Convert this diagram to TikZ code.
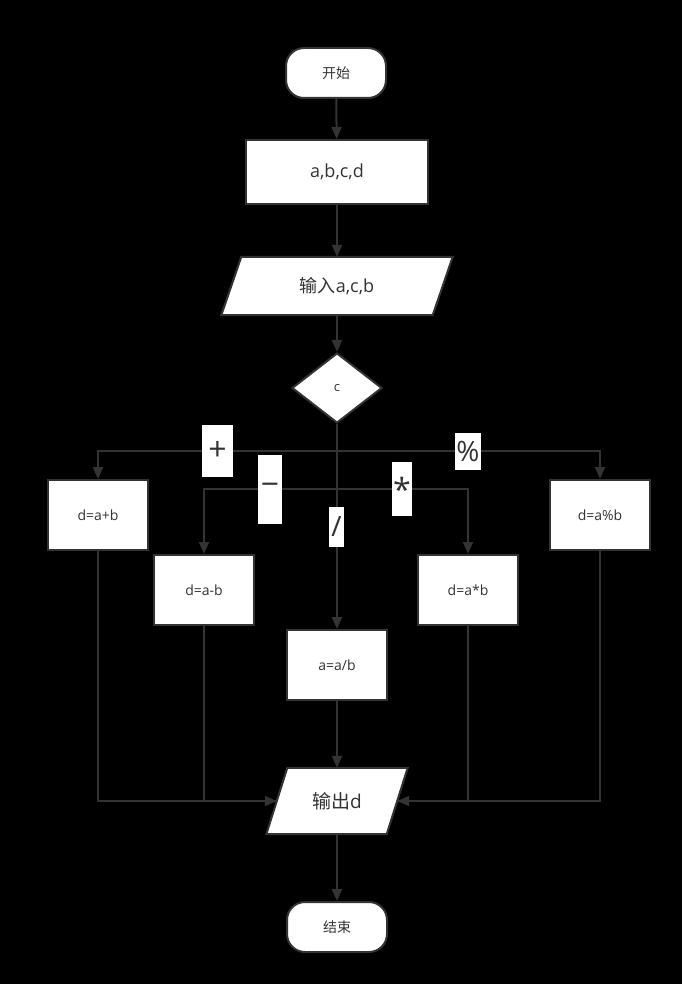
\documentclass[tikz,border=0pt]{standalone}
\usepackage{fontspec}
\setmainfont{Open Sans}
\newfontfamily\cjk{Noto Sans CJK SC}
\usetikzlibrary{arrows.meta,shapes.geometric,calc}
\definecolor{ln}{HTML}{333333}
\tikzset{
  line/.style={draw=ln, line width=2pt},
  arr/.style={line, -{Triangle[length=12pt,width=10pt]}},
  box/.style={draw=ln, line width=2pt, fill=white, text=ln, inner sep=0pt, font=\fontsize{14}{16}\selectfont},
  term/.style={box, rounded corners=18pt, minimum width=100pt, minimum height=50pt},
  proc/.style={box, minimum width=100pt, minimum height=70pt},
  iobox/.style={inner sep=0pt, text=ln, font=\fontsize{18}{22}\selectfont},
  lab/.style={fill=white, text=ln, inner sep=0pt, font=\fontsize{32}{36}\selectfont}
}
\begin{document}
\begin{tikzpicture}[x=1pt,y=-1pt]
\fill[black] (0,0) rectangle (682,984);
\useasboundingbox (0,0) rectangle (682,984);

\node[term] (start) at (336,73) {{\cjk 开始}};
\node[box, minimum width=182pt, minimum height=64pt, font=\fontsize{18}{22}\selectfont] (init) at (337,172) {a,b,c,d};

% input parallelogram
\node[iobox, minimum width=211pt, minimum height=58pt] (in) at (337,286) {};
\filldraw[line, fill=white] ($(in.north west)+(10,0)$) -- ($(in.north east)+(10,0)$) -- ($(in.south east)+(-10,0)$) -- ($(in.south west)+(-10,0)$) -- cycle;
\node[iobox] at (in) {{\cjk 输入}a,c,b};

\node[box, diamond, minimum width=90pt, minimum height=70pt, aspect=1.29, font=\fontsize{13}{15}\selectfont] (dec) at (337,388) {c};

\node[proc] (add) at (98,515) {d=a+b};
\node[proc] (sub) at (204,590) {d=a-b};
\node[proc] (div) at (337,665) {a=a/b};
\node[proc] (mul) at (468,590) {d=a*b};
\node[proc] (mod) at (600,515) {d=a\%b};

% output parallelogram
\node[iobox, minimum width=120pt, minimum height=66pt] (out) at (337,801) {};
\filldraw[line, fill=white] ($(out.north west)+(10.5,0)$) -- ($(out.north east)+(10.5,0)$) -- ($(out.south east)+(-10.5,0)$) -- ($(out.south west)+(-10.5,0)$) -- cycle;
\node[iobox, font=\fontsize{19}{22}\selectfont] at (out) {{\cjk 输出}d};

\node[term] (end) at (337,927) {{\cjk 结束}};

\coordinate (j1) at (337,451);
\coordinate (j2) at (337,489);

% connectors
\draw[arr] (start) -- (init);
\draw[arr] (init) -- (in);
\draw[arr] (in) -- (dec);
\draw[arr] (dec) -- (div);
\draw[arr] (j1) -| (add);
\draw[arr] (j1) -| (mod);
\draw[arr] (j2) -| (sub);
\draw[arr] (j2) -| (mul);
\draw[line] (sub) |- (out.west);
\draw[line] (mul) |- (out.east);
\draw[arr] (add) |- (out.west);
\draw[arr] (mod) |- (out.east);
\draw[arr] (div) -- (out);
\draw[arr] (out) -- (end);

% branch labels
\node[lab, minimum width=31pt, minimum height=52pt] (lp) at (217.5,451) {+};
\node[lab, minimum width=24pt, minimum height=69pt] (lm) at (270,489) {−};
\node[lab, minimum width=15pt, minimum height=40pt, font=\fontsize{28}{32}\selectfont] (ld) at (336.5,527) {/};
\node[lab, minimum width=20pt, minimum height=54pt] (lt) at (402,489) {*};
\node[lab, minimum width=26pt, minimum height=37pt, font=\fontsize{28}{32}\selectfont] (lr) at (468,451) {\%};
\end{tikzpicture}
\end{document}
